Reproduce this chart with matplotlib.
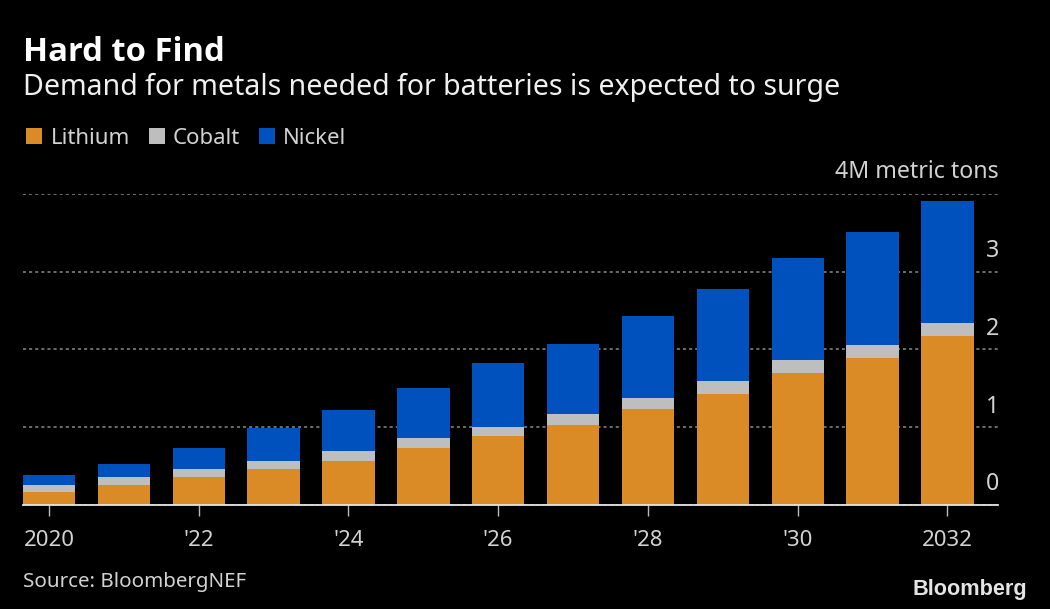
import numpy as np
import matplotlib
matplotlib.use("Agg")
import matplotlib.pyplot as plt
from matplotlib.transforms import blended_transform_factory

years = [2020, 2021, 2022, 2023, 2024, 2025, 2026, 2027, 2028, 2029, 2030, 2031, 2032]
lithium = [0.16, 0.25, 0.355, 0.46, 0.56, 0.73, 0.88, 1.02, 1.23, 1.42, 1.69, 1.89, 2.17]
cobalt = [0.09, 0.10, 0.10, 0.10, 0.13, 0.13, 0.12, 0.14, 0.14, 0.17, 0.17, 0.17, 0.17]
nickel = [0.13, 0.17, 0.27, 0.43, 0.53, 0.64, 0.82, 0.91, 1.06, 1.19, 1.31, 1.45, 1.57]
tick_years = [2020, 2022, 2024, 2026, 2028, 2030, 2032]
tick_names = ["2020", "'22", "'24", "'26", "'28", "'30", "2032"]
y_ticks = [0, 1, 2, 3, 4]
y_names = ["0", "1", "2", "3", "4M metric tons"]

W, H = 1050, 609
BG = "#000000"
TXT = "#d2d2d2"

plt.rcParams["font.family"] = "Noto Sans"

fig = plt.figure(figsize=(W / 100, H / 100), dpi=100, facecolor=BG)
# axes box in pixels: x 23-998, y 194 (value 4) to 504.5 (value 0)
ax = fig.add_axes([23 / W, 1 - 504.5 / H, 975 / W, 310.5 / H], facecolor=BG)

bottom = np.zeros(len(years))
for vals, color, name in [(lithium, "#DB8B25", "Lithium"),
                          (cobalt, "#BEBEBE", "Cobalt"),
                          (nickel, "#0050BE", "Nickel")]:
    ax.bar(years, vals, width=0.70, bottom=bottom, color=color, label=name, zorder=3)
    bottom = bottom + np.array(vals)

ax.set_xlim(2019.653, 2032.675)
ax.set_ylim(0, 4)
for s in ["top", "left", "right"]:
    ax.spines[s].set_visible(False)
ax.spines["bottom"].set_color("#e6e6e6")
ax.spines["bottom"].set_linewidth(1.3)
ax.spines["bottom"].set_zorder(4)

ax.set_yticks(y_ticks)
ax.set_yticklabels([])
ax.tick_params(axis="y", length=0)
ax.grid(axis="y", color="#8a8a8a", linestyle=(0, (2, 2)), linewidth=1.1, zorder=1)
ax.set_axisbelow(True)

ax.set_xticks(tick_years)
ax.set_xticklabels(tick_names, color=TXT, fontsize=16)
ax.tick_params(axis="x", length=8, width=1.0, color="#bbbbbb", pad=10)

trans = blended_transform_factory(ax.transAxes, ax.transData)
for v, name in zip(y_ticks, y_names):
    # the top label keeps its height, the numbers sit a little lower
    offset = 0.13 if v == 4 else 0.105
    ax.text(1.001, v + offset, name, transform=trans, ha="right", va="bottom",
            color=TXT, fontsize=16.7, zorder=5)

fig.text(23 / W, 1 - 61 / H, "Hard to Find", color="white", fontsize=23.6, fontweight="bold",
         family="Open Sans")
fig.text(23 / W, 1 - 95 / H, "Demand for metals needed for batteries is expected to surge",
         color="#f0f0f0", fontsize=20.55)

leg = ax.legend(loc="upper left", bbox_to_anchor=(22 / W, 1 - 123.5 / H), bbox_transform=fig.transFigure,
                ncol=3, frameon=False, fontsize=16, handlelength=0.72, handleheight=0.72,
                handletextpad=0.36, columnspacing=0.85, labelcolor=TXT, borderpad=0.2, borderaxespad=0)

fig.text(23 / W, 1 - 587 / H, "Source: BloombergNEF", color=TXT, fontsize=14.8)
fig.text(1027 / W, 1 - 595 / H, "Bloomberg", color="#e4e4e4", fontsize=15.6, fontweight="bold",
         family="Liberation Sans", ha="right")

fig.savefig("out.png", dpi=100, facecolor=BG)
